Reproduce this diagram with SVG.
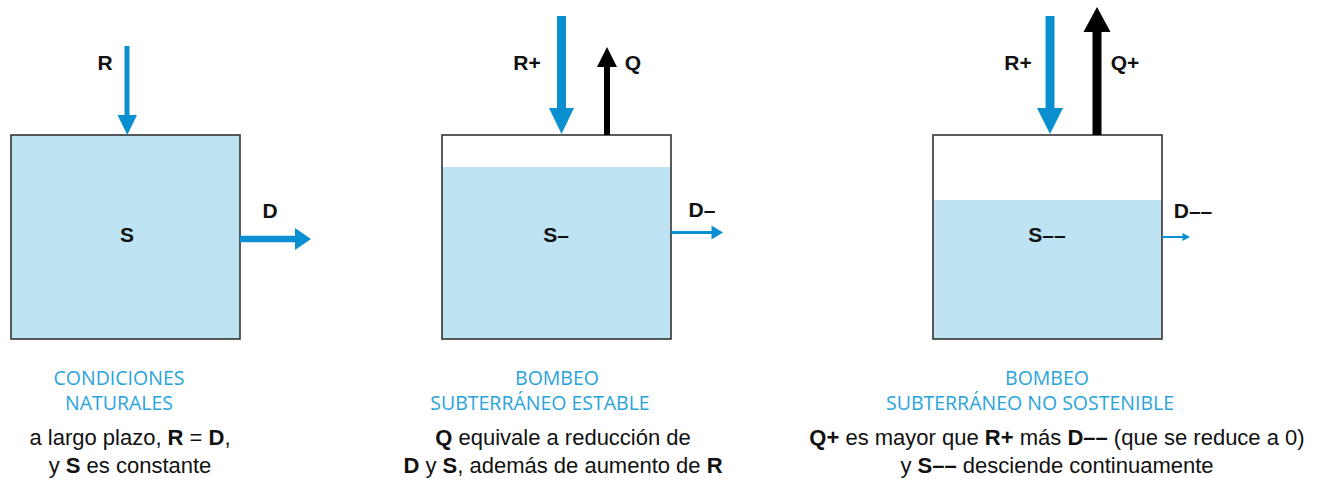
<svg xmlns="http://www.w3.org/2000/svg" width="1321" height="480" viewBox="0 0 1321 480">
  <style>
    .water { fill: #bee3f2; }
    .box { fill: none; stroke: #333333; stroke-width: 1.6; }
    .lbl { font-family: "Liberation Sans", Arial, sans-serif; font-weight: bold; font-size: 21px; fill: #111111; text-anchor: middle; }
    .head { font-family: "Open Sans", "Liberation Sans", sans-serif; font-size: 19.5px; fill: #29a3dc; text-anchor: middle; }
    .cap { font-family: "Liberation Sans", Arial, sans-serif; font-size: 22px; fill: #111111; text-anchor: middle; }
    .cap tspan.b { font-weight: bold; }
    .blue { stroke: #0a8fd0; fill: none; }
    .blueh { fill: #0a8fd0; }
    .black { stroke: #000000; fill: none; }
    .blackh { fill: #000000; }
  </style>
  <rect width="1321" height="480" fill="#ffffff"/>

  <g id="aquifer-natural">
    <rect class="water" x="11" y="135" width="229" height="204"/>
    <rect class="box" x="11" y="135" width="229" height="204"/>
    <text class="lbl" x="127" y="242">S</text>
  </g>

  <g id="aquifer-stable">
    <rect x="442" y="135" width="229" height="204" fill="#ffffff"/>
    <rect class="water" x="442" y="167" width="229" height="172"/>
    <rect class="box" x="442" y="135" width="229" height="204"/>
    <text class="lbl" x="556" y="242">S–</text>
  </g>

  <g id="aquifer-unsustainable">
    <rect x="933" y="135" width="229" height="204" fill="#ffffff"/>
    <rect class="water" x="933" y="200" width="229" height="139"/>
    <rect class="box" x="933" y="135" width="229" height="204"/>
    <text class="lbl" x="1047" y="242">S––</text>
  </g>

  <g id="connectors">
    <!-- panel 1 -->
    <line class="blue" x1="127" y1="46" x2="127" y2="117" stroke-width="5"/>
    <polygon class="blueh" points="117.5,115 137,115 127.3,135"/>
    <line class="blue" x1="240" y1="239" x2="297" y2="239" stroke-width="6.5"/>
    <polygon class="blueh" points="295,228 295,250 311,239"/>
    <!-- panel 2 -->
    <line class="blue" x1="561.5" y1="16" x2="561.5" y2="110" stroke-width="9"/>
    <polygon class="blueh" points="549,108 574,108 561.5,134"/>
    <line class="black" x1="607" y1="135" x2="607" y2="65" stroke-width="6"/>
    <polygon class="blackh" points="597,67 617,67 607,47"/>
    <line class="blue" x1="671" y1="232.5" x2="713" y2="232.5" stroke-width="3"/>
    <polygon class="blueh" points="711.5,225.5 711.5,239.5 723,232.5"/>
    <!-- panel 3 -->
    <line class="blue" x1="1050" y1="16" x2="1050" y2="110" stroke-width="9"/>
    <polygon class="blueh" points="1037,108 1063,108 1050,134"/>
    <line class="black" x1="1097" y1="135" x2="1097" y2="30" stroke-width="9"/>
    <polygon class="blackh" points="1083.5,32 1110.5,32 1097,7"/>
    <line class="blue" x1="1162" y1="237" x2="1184" y2="237" stroke-width="2"/>
    <polygon class="blueh" points="1182.5,233 1182.5,241 1190,237"/>
  </g>

  <g id="flow-labels">
    <text class="lbl" x="105" y="70">R</text>
    <text class="lbl" x="270" y="218">D</text>
    <text class="lbl" x="527" y="70">R+</text>
    <text class="lbl" x="633" y="70">Q</text>
    <text class="lbl" x="702" y="217">D–</text>
    <text class="lbl" x="1018" y="70">R+</text>
    <text class="lbl" x="1125" y="70">Q+</text>
    <text class="lbl" x="1193" y="218">D––</text>
  </g>

  <g id="caption-natural">
    <text class="head" x="119" y="385">CONDICIONES</text>
    <text class="head" x="119" y="410">NATURALES</text>
    <text class="cap" x="130" y="445">a largo plazo, <tspan class="b">R</tspan> = <tspan class="b">D</tspan>,</text>
    <text class="cap" x="130" y="473">y <tspan class="b">S</tspan> es constante</text>
  </g>

  <g id="caption-stable">
    <text class="head" x="557" y="385">BOMBEO</text>
    <text class="head" x="540" y="410">SUBTERRÁNEO ESTABLE</text>
    <text class="cap" x="563" y="445"><tspan class="b">Q</tspan> equivale a reducción de</text>
    <text class="cap" x="563" y="473"><tspan class="b">D</tspan> y <tspan class="b">S</tspan>, además de aumento de <tspan class="b">R</tspan></text>
  </g>

  <g id="caption-unsustainable">
    <text class="head" x="1047" y="385">BOMBEO</text>
    <text class="head" x="1030" y="410">SUBTERRÁNEO NO SOSTENIBLE</text>
    <text class="cap" x="1057" y="445"><tspan class="b">Q+</tspan> es mayor que <tspan class="b">R+</tspan> más <tspan class="b">D––</tspan> (que se reduce a 0)</text>
    <text class="cap" x="1057" y="473">y <tspan class="b">S––</tspan> desciende continuamente</text>
  </g>
</svg>
